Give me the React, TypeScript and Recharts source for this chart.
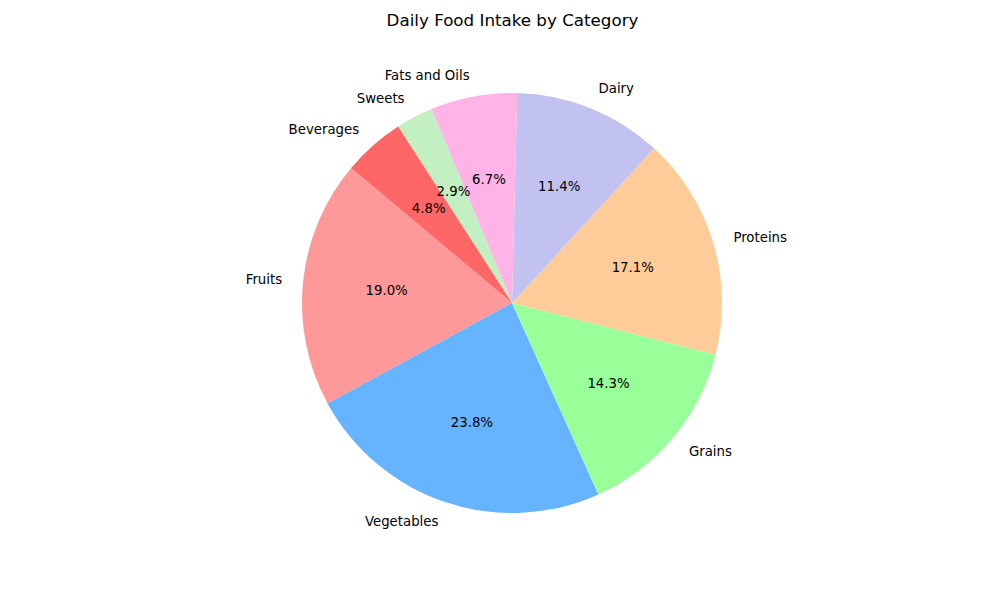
import React from "react";
import { PieChart, Pie, Cell } from "recharts";

const categories = ["Fruits", "Vegetables", "Grains", "Proteins", "Dairy", "Fats and Oils", "Sweets", "Beverages"];
const values = [200, 250, 150, 180, 120, 70, 30, 50];
const colors = ["#ff9999", "#66b3ff", "#99ff99", "#ffcc99", "#c2c2f0", "#ffb3e6", "#c2f0c2", "#ff6666"];

const data = categories.map((name, i) => ({ name, value: values[i] }));
const RAD = Math.PI / 180;
const FONT = "DejaVu Sans, sans-serif";

const renderLabel = (props: any) => {
  const { cx, cy, midAngle, outerRadius, percent, name } = props;
  const cos = Math.cos(-midAngle * RAD);
  const sin = Math.sin(-midAngle * RAD);
  const lx = cx + outerRadius * 1.1 * cos;
  const ly = cy + outerRadius * 1.1 * sin;
  const px = cx + outerRadius * 0.6 * cos;
  const py = cy + outerRadius * 0.6 * sin;
  return (
    <g>
      <text x={lx} y={ly} textAnchor={cos >= 0 ? "start" : "end"} dominantBaseline="central" fontSize={13.3} fontFamily={FONT} fill="#000">
        {name}
      </text>
      <text x={px} y={py} textAnchor="middle" dominantBaseline="central" fontSize={13.3} fontFamily={FONT} fill="#000">
        {(percent * 100).toFixed(1)}%
      </text>
    </g>
  );
};

export default function App() {
  return (
    <div style={{ position: "absolute", left: 0, top: 0, width: 1000, height: 600, background: "#fff" }}>
      <div style={{ position: "absolute", left: 0, top: 10, width: 1025, textAlign: "center", fontFamily: FONT, fontSize: 16.7, color: "#000" }}>
        Daily Food Intake by Category
      </div>
      <PieChart width={1000} height={600} margin={{ top: 0, right: 0, bottom: 0, left: 0 }}>
        <Pie
          data={data}
          dataKey="value"
          nameKey="name"
          cx={512}
          cy={303}
          outerRadius={210}
          startAngle={140}
          endAngle={500}
          stroke="none"
          labelLine={false}
          label={renderLabel}
          isAnimationActive={false}
        >
          {data.map((d, i) => (
            <Cell key={d.name} fill={colors[i]} />
          ))}
        </Pie>
      </PieChart>
    </div>
  );
}
